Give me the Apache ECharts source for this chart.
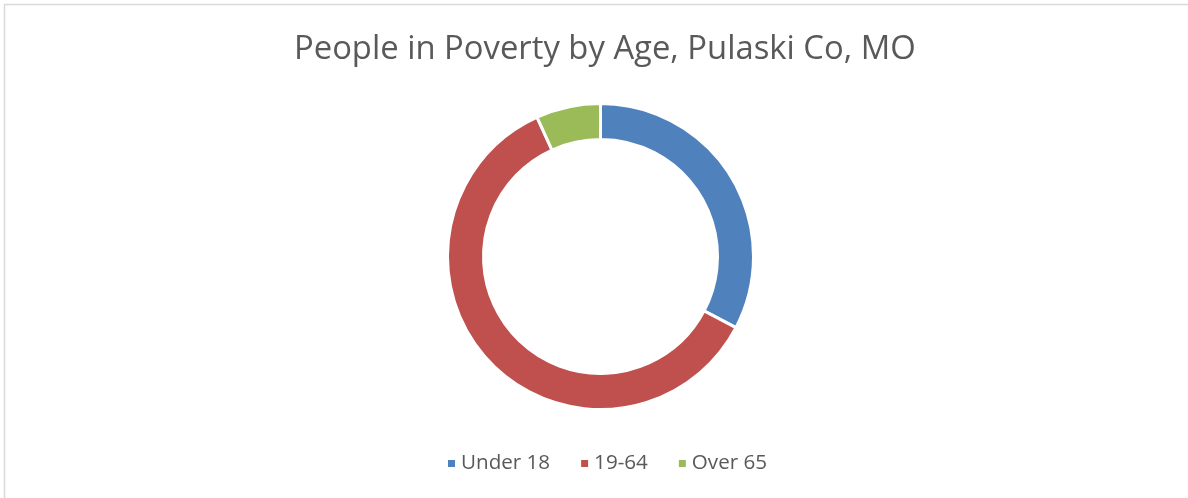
<!DOCTYPE html>
<html>
<head>
<meta charset="utf-8">
<script src="https://cdn.jsdelivr.net/npm/echarts@6/dist/echarts.min.js"></script>
<style>
  html, body { margin: 0; padding: 0; background: #fff; }
  #chart { width: 1188px; height: 498px; }
</style>
</head>
<body>
<div id="chart"></div>
<script>
const categories = ['Under 18', '19-64', 'Over 65']
const values = [32.7, 60.5, 6.8]
const colors = ['#4F81BD', '#C0504D', '#9BBB59']

const chart = echarts.init(document.getElementById('chart'))
chart.setOption({
  animation: false,
  color: colors,
  title: {
    text: 'People in Poverty by Age, Pulaski Co, MO',
    left: 289,
    top: 28,
    textStyle: {
      fontFamily: 'Open Sans',
      fontSize: 32.8,
      fontWeight: 'normal',
      color: '#595959'
    }
  },
  legend: {
    top: 448,
    left: 441,
    icon: 'rect',
    itemWidth: 9,
    itemHeight: 9,
    itemGap: 29,
    textStyle: {
      fontFamily: 'Open Sans',
      fontSize: 20.6,
      color: '#595959'
    },
    data: categories
  },
  // outer chart frame
  graphic: [{
    type: 'rect',
    shape: { x: 4.5, y: 4.5, width: 1300, height: 700 },
    style: { fill: 'none', stroke: '#d9d9d9', lineWidth: 1.5 },
    silent: true
  }],
  series: [{
    type: 'pie',
    center: [600.5, 256.5],
    radius: [117, 153],
    startAngle: 90,
    clockwise: true,
    label: { show: false },
    labelLine: { show: false },
    itemStyle: { borderColor: '#fff', borderWidth: 3 },
    data: categories.map((name, i) => ({ name, value: values[i] }))
  }]
})
</script>
</body>
</html>
